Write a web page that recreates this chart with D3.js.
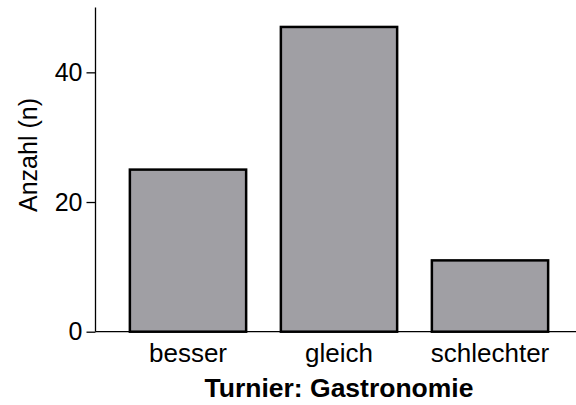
<!DOCTYPE html>
<html>
<head>
<meta charset="utf-8">
<script src="https://cdn.jsdelivr.net/npm/d3@7"></script>
<style>
  body { margin: 0; background: #fff; }
  text { font-family: "Liberation Sans", Arial, sans-serif; fill: #000; }
</style>
</head>
<body>
<div id="chart"></div>
<script>
// categories and counts
const categories = ["besser", "gleich", "schlechter"];
const counts = [25, 47, 11];
const yTicks = [0, 20, 40];
const xTitle = "Turnier: Gastronomie";
const yTitle = "Anzahl (n)";

const width = 576, height = 405;

const svg = d3.select("#chart")
  .append("svg")
  .attr("width", width)
  .attr("height", height);

// scales
const x = d3.scaleBand()
  .domain(categories)
  .range([112.5, 565.5])
  .paddingInner(0.23)
  .paddingOuter(0.115);

const y = d3.scaleLinear()
  .domain([0, 50])
  .range([331.7, 7.5]);

// bars
svg.selectAll("rect.bar")
  .data(categories)
  .join("rect")
  .attr("class", "bar")
  .attr("x", d => x(d))
  .attr("y", (d, i) => y(counts[i]))
  .attr("width", x.bandwidth())
  .attr("height", (d, i) => y(0) - y(counts[i]))
  .attr("fill", "#a09fa4")
  .attr("stroke", "#000")
  .attr("stroke-width", 2.5);

// y axis
const yAxis = svg.append("g")
  .attr("transform", "translate(95.5,0)")
  .call(d3.axisLeft(y).tickValues(yTicks).tickSize(9).tickPadding(4));
yAxis.select(".domain").attr("d", `M0,${y(50)}V${y(0)}`).attr("stroke-width", 1.3);
yAxis.selectAll(".tick line").attr("stroke-width", 1.3);
yAxis.selectAll(".tick text")
  .style("font-size", "25px")
  .attr("fill", "#000");

// x axis (line only, no ticks)
const xAxis = svg.append("g")
  .attr("transform", `translate(0,${y(0)})`)
  .call(d3.axisBottom(x).tickSize(0).tickPadding(12));
xAxis.select(".domain").attr("d", `M95.5,0H${width}`).attr("stroke-width", 1.3);
xAxis.selectAll(".tick text")
  .style("font-size", "26px")
  .attr("fill", "#000");

// titles
svg.append("text")
  .attr("x", x("gleich") + x.bandwidth() / 2)
  .attr("y", 397)
  .attr("text-anchor", "middle")
  .style("font-size", "26.5px")
  .style("font-weight", "bold")
  .text(xTitle);

svg.append("text")
  .attr("transform", "translate(37,155) rotate(-90)")
  .attr("text-anchor", "middle")
  .style("font-size", "25px")
  .text(yTitle);
</script>
</body>
</html>
